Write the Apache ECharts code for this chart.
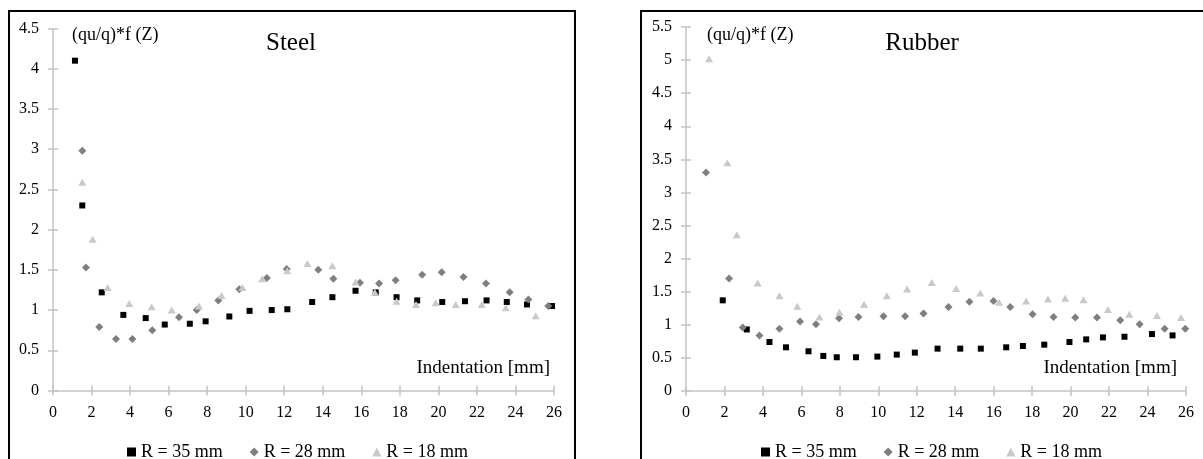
<!DOCTYPE html>
<html>
<head>
<meta charset="utf-8">
<script src="https://cdn.jsdelivr.net/npm/echarts@6/dist/echarts.min.js"></script>
<style>
html,body{margin:0;padding:0;background:#fff;}
#c{width:1203px;height:459px;}
</style>
</head>
<body>
<div id="c"></div>
<script>
// ---- data (x = indentation [mm], y = (qu/q)*f(Z)) ----
var seriesNames = ['R = 35 mm', 'R = 28 mm', 'R = 18 mm'];

var steel35 = [[1.14,4.10],[1.52,2.30],[2.53,1.22],[3.65,0.94],[4.81,0.90],[5.8,0.82],[7.1,0.83],[7.92,0.86],[9.15,0.92],[10.2,0.99],[11.35,1.00],[12.16,1.01],[13.45,1.10],[14.5,1.16],[15.7,1.24],[16.75,1.22],[17.83,1.16],[18.9,1.12],[20.2,1.10],[21.38,1.11],[22.5,1.12],[23.55,1.10],[24.6,1.07],[25.9,1.05]];
var steel28 = [[1.52,2.98],[1.71,1.53],[2.4,0.79],[3.27,0.64],[4.12,0.64],[5.15,0.75],[6.54,0.91],[7.46,1.00],[8.58,1.12],[9.67,1.26],[11.1,1.40],[12.13,1.51],[13.77,1.50],[14.55,1.39],[15.93,1.34],[16.92,1.33],[17.78,1.37],[19.16,1.44],[20.17,1.47],[21.3,1.41],[22.47,1.33],[23.7,1.22],[24.67,1.13],[25.7,1.05]];
var steel18 = [[1.52,2.59],[2.06,1.88],[2.84,1.28],[3.96,1.08],[5.12,1.04],[6.16,1.00],[7.58,1.05],[8.75,1.18],[9.83,1.28],[10.86,1.39],[12.16,1.49],[13.2,1.58],[14.5,1.55],[15.7,1.35],[16.7,1.22],[17.83,1.11],[18.84,1.07],[19.86,1.09],[20.9,1.07],[22.25,1.07],[23.5,1.03],[25.05,0.93]];

var rubber35 = [[1.91,1.37],[3.16,0.93],[4.34,0.74],[5.2,0.66],[6.37,0.60],[7.14,0.53],[7.84,0.51],[8.84,0.51],[9.95,0.52],[10.96,0.55],[11.9,0.58],[13.08,0.64],[14.26,0.64],[15.33,0.64],[16.65,0.66],[17.52,0.68],[18.63,0.70],[19.94,0.74],[20.81,0.78],[21.68,0.81],[22.8,0.82],[24.23,0.86],[25.3,0.84]];
var rubber28 = [[1.04,3.30],[2.24,1.70],[2.95,0.96],[3.82,0.84],[4.86,0.94],[5.93,1.05],[6.76,1.01],[7.96,1.10],[8.97,1.12],[10.27,1.13],[11.39,1.13],[12.35,1.17],[13.65,1.27],[14.74,1.35],[15.99,1.36],[16.86,1.27],[18.02,1.16],[19.11,1.12],[20.24,1.11],[21.37,1.11],[22.58,1.07],[23.59,1.01],[24.89,0.94],[25.96,0.94]];
var rubber18 = [[1.2,5.02],[2.15,3.45],[2.64,2.36],[3.73,1.63],[4.86,1.44],[5.79,1.28],[6.94,1.12],[7.98,1.19],[9.26,1.31],[10.44,1.44],[11.5,1.54],[12.78,1.64],[14.05,1.55],[15.3,1.48],[16.28,1.34],[17.69,1.36],[18.82,1.39],[19.72,1.40],[20.67,1.38],[21.94,1.23],[23.05,1.16],[24.49,1.14],[25.74,1.11]];

var xAxisRange = {min: 0, max: 26, interval: 2};
var steelYRange = {min: 0, max: 4.5, interval: 0.5};
var rubberYRange = {min: 0, max: 5.5, interval: 0.5};

var panelTitles = ['Steel', 'Rubber'];
var yAxisTitle = '(qu/q)*f (Z)';
var xAxisTitle = 'Indentation [mm]';

// ---- styling ----
var FONT = '"Liberation Serif", "Times New Roman", serif';
var AXIS_COLOR = '#c4c4c4';
var colors = ['#000000', '#7f7f7f', '#c9c9c9'];
var symbols = ['rect', 'diamond', 'triangle'];
var symbolSizes = [6, 8, [8, 7]];

function mainAxis(grid, range, isX) {
  return {
    type: 'value', gridIndex: grid, min: range.min, max: range.max, interval: range.interval,
    position: isX ? 'bottom' : 'left',
    axisLine: {show: true, lineStyle: {color: AXIS_COLOR, width: 1.5}},
    axisTick: {show: true, inside: false, length: 5, lineStyle: {color: AXIS_COLOR, width: 1.5}},
    splitLine: {show: false},
    axisLabel: {color: '#000', fontFamily: FONT, fontSize: 16, margin: isX ? 14 : 14}
  };
}
function tickAxis(grid, range, isX) {
  return {
    type: 'value', gridIndex: grid, min: range.min, max: range.max, interval: range.interval,
    position: isX ? 'bottom' : 'left',
    axisLine: {show: false},
    axisTick: {show: true, inside: true, length: 5, lineStyle: {color: AXIS_COLOR, width: 1.5}},
    splitLine: {show: false},
    axisLabel: {show: false}
  };
}

var datasets = [[steel35, steel28, steel18], [rubber35, rubber28, rubber18]];
var series = [];
for (var g = 0; g < 2; g++) {
  for (var s = 0; s < 3; s++) {
    series.push({
      type: 'scatter', name: seriesNames[s], xAxisIndex: g * 2, yAxisIndex: g * 2,
      data: datasets[g][s], symbol: symbols[s], symbolSize: symbolSizes[s],
      itemStyle: {color: colors[s], opacity: 1}, z: 2 + s
    });
  }
}

function textEl(x, y, str, size, align) {
  return {type: 'text', x: x, y: y, silent: true,
    style: {text: str, fill: '#000', font: size + 'px ' + FONT, textAlign: align, textVerticalAlign: 'middle'}};
}

var chart = echarts.init(document.getElementById('c'), null, {renderer: 'canvas'});
chart.setOption({
  backgroundColor: '#fff',
  animation: false,
  grid: [
    {left: 53, top: 28.5, width: 501, height: 362},
    {left: 686, top: 27, width: 500, height: 364}
  ],
  xAxis: [
    mainAxis(0, xAxisRange, true), tickAxis(0, xAxisRange, true),
    mainAxis(1, xAxisRange, true), tickAxis(1, xAxisRange, true)
  ],
  yAxis: [
    mainAxis(0, steelYRange, false), tickAxis(0, steelYRange, false),
    mainAxis(1, rubberYRange, false), tickAxis(1, rubberYRange, false)
  ],
  legend: [
    {left: 122, top: 438, itemWidth: 9, itemHeight: 9, itemGap: 27, data: seriesNames,
     textStyle: {fontFamily: FONT, fontSize: 18, color: '#000'}, selectedMode: false},
    {left: 756, top: 438, itemWidth: 9, itemHeight: 9, itemGap: 27, data: seriesNames,
     textStyle: {fontFamily: FONT, fontSize: 18, color: '#000'}, selectedMode: false}
  ],
  graphic: [
    {type: 'polyline', silent: true, shape: {points: [[9, 470], [9, 11], [575, 11], [575, 470]]},
     style: {stroke: '#000', lineWidth: 2, fill: null}},
    {type: 'polyline', silent: true, shape: {points: [[641, 470], [641, 11], [1210, 11]]},
     style: {stroke: '#000', lineWidth: 2, fill: null}},
    textEl(291, 43, panelTitles[0], 25, 'center'),
    textEl(922, 43, panelTitles[1], 25, 'center'),
    textEl(72, 35, yAxisTitle, 18, 'left'),
    textEl(707, 35, yAxisTitle, 18, 'left'),
    textEl(550, 368, xAxisTitle, 19, 'right'),
    textEl(1177, 368, xAxisTitle, 19, 'right')
  ],
  series: series
});
</script>
</body>
</html>
